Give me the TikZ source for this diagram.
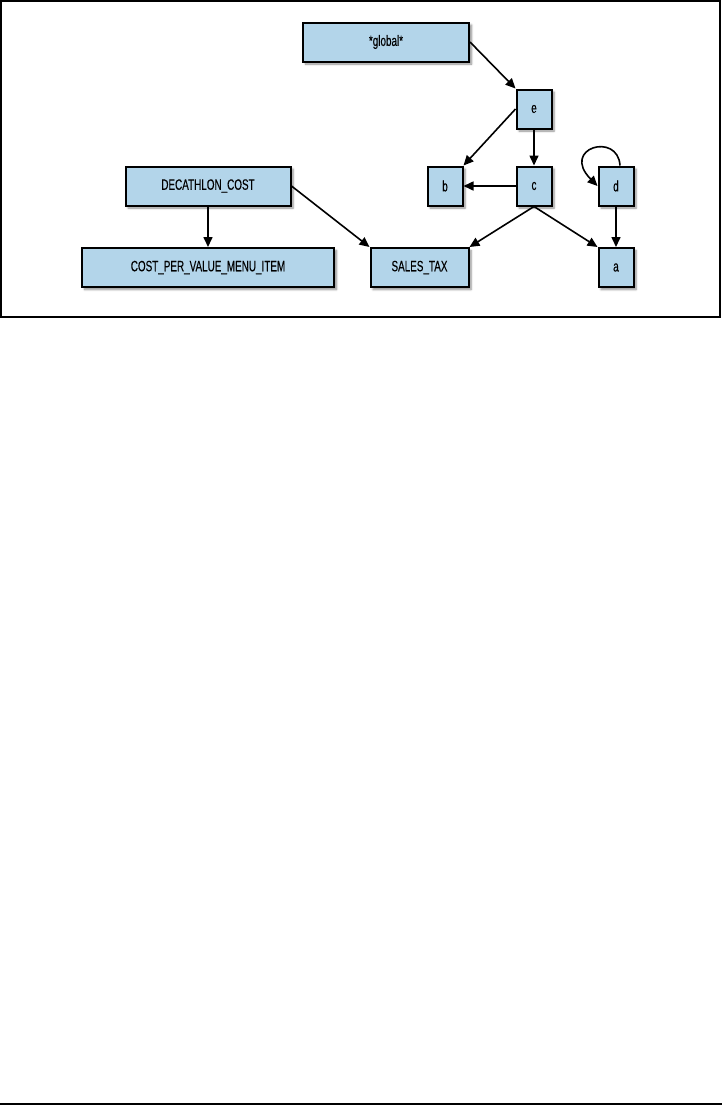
\documentclass[tikz,border=0pt]{standalone}
\usepackage{fontspec}
\setmainfont{Liberation Sans}[FakeStretch=0.66, FakeBold=0.25]
\usepackage{xcolor}
\usetikzlibrary{arrows.meta,positioning,shadows.blur}
\definecolor{boxfill}{HTML}{B3D5EA}
\tikzset{
  box/.style={draw=black, line width=2pt, fill=boxfill, inner sep=0pt,
              minimum height=39pt, font=\fontsize{15}{18}\selectfont,
              blur shadow={shadow xshift=2.5pt, shadow yshift=-2.5pt,
                           shadow blur steps=6, shadow opacity=45}},
  sq/.style={box, minimum width=35pt},
  arr/.style={-{Triangle[length=10pt, width=9pt]}, line width=1.6pt, draw=black}
}
\begin{document}
\begin{tikzpicture}[x=1pt, y=-1pt]
  \useasboundingbox (0,0) rectangle (722,1106);
  \draw[line width=1.2pt] (1,1) rectangle (720,317);
  \draw[line width=1.5pt] (0,1104) -- (722,1104);

  \node[box, minimum width=166pt] (glob) at (386,42) {*global*};
  \node[sq] (e) at (534,109) {e};
  \node[sq] (b) at (445,186) {b};
  \node[sq] (c) at (534,186) {c};
  \node[sq] (d) at (616,186) {d};
  \node[sq] (a) at (616,267.5) {a};
  \node[box, minimum width=165pt] (dcost) at (208,186) {DECATHLON\_COST};
  \node[box, minimum width=252pt] (cpv) at (208,267.5) {COST\_PER\_VALUE\_MENU\_ITEM};
  \node[box, minimum width=98pt] (stax) at (419.5,267.5) {SALES\_TAX};

  \draw[arr] (glob.east) -- (e.north west);
  \draw[arr] (e.west) -- (b.north east);
  \draw[arr] (e) -- (c);
  \draw[arr] (c) -- (b);
  % self loop on d, leaves the top and comes back in from the left
  \draw[arr] ([xshift=4pt]d.north) .. controls +(-2,-34) and (560,148) .. (d.west);
  \draw[arr] (d) -- (a);
  \draw[arr] (c.south) -- (stax.north east);
  \draw[arr] (c.south) -- (a.north west);
  \draw[arr] (dcost.east) -- (stax.north west);
  \draw[arr] (dcost) -- (cpv);
\end{tikzpicture}
\end{document}
